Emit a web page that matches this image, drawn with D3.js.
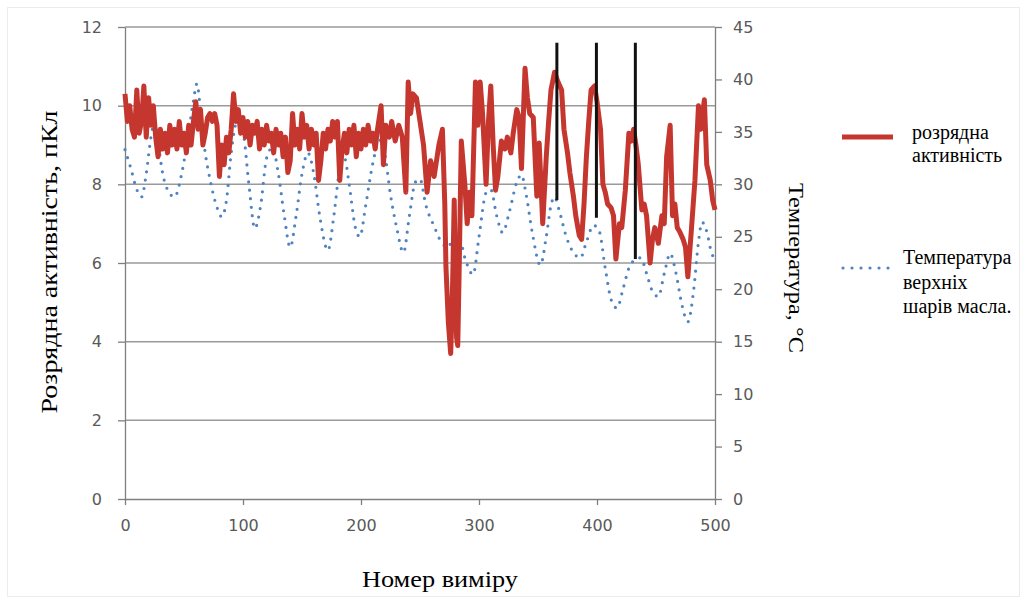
<!DOCTYPE html>
<html>
<head>
<meta charset="utf-8">
<script src="https://cdn.jsdelivr.net/npm/d3@7"></script>
<style>
  body { margin: 0; background: #fff; }
  .tick text { font-family: "DejaVu Sans", sans-serif; font-size: 16px; fill: #595959; }
  .serif { font-family: "Liberation Serif", "Times New Roman", serif; fill: #000; }
</style>
</head>
<body>
<svg id="chart"></svg>
<script>
// discharge activity, pC  [measurement number, value]
const discharge = [
  [0,10.3],[2,9.6],[4,10.0],[6,9.4],[8,9.2],[10,10.4],[12,9.3],[14,9.6],[16,10.5],[18,9.2],
  [20,10.2],[22,9.5],[24,10.0],[26,9.2],[28,8.7],[30,9.4],[32,8.9],[34,9.3],[36,8.8],[38,9.5],
  [40,9.0],[42,9.4],[44,8.9],[46,9.6],[48,9.0],[50,9.3],[52,8.8],[54,9.5],[56,9.0],[58,9.6],
  [60,10.1],[62,9.4],[64,9.9],[66,9.0],[68,9.3],[70,9.7],[72,9.8],[74,9.6],[76,9.8],[78,9.5],
  [80,8.2],[82,9.0],[84,8.5],[86,9.2],[88,8.8],[90,9.4],[92,10.3],[94,9.6],[96,9.9],[98,9.3],
  [100,9.7],[102,9.2],[104,9.6],[106,9.0],[108,9.5],[110,9.3],[112,9.6],[114,8.9],[116,9.4],[118,9.0],
  [120,9.5],[122,9.1],[124,9.3],[126,8.8],[128,9.4],[130,9.0],[132,9.3],[134,8.7],[136,9.2],[138,8.3],
  [140,8.6],[142,9.8],[144,9.0],[146,9.4],[148,8.9],[150,9.8],[152,9.2],[154,9.5],[156,8.9],[158,9.4],
  [160,9.0],[162,9.3],[164,8.1],[166,8.6],[168,9.3],[170,8.9],[172,9.4],[174,9.1],[176,9.6],[178,9.2],
  [180,9.6],[182,8.1],[184,8.9],[186,9.3],[188,8.8],[190,9.4],[192,9.0],[194,9.5],[196,8.7],[198,9.3],
  [200,8.9],[202,9.4],[204,9.0],[206,9.5],[208,9.1],[210,9.3],[212,8.9],[214,9.4],[217,10.0],[219,8.5],
  [221,9.5],[224,9.2],[226,9.6],[229,9.1],[232,9.5],[235,9.2],[238,7.8],[240,10.6],[242,9.8],[244,10.3],
  [247,10.2],[250,9.6],[253,9.0],[256,7.8],[259,8.6],[262,8.2],[266,9.0],[269,9.4],[271,7.5],[272,5.9],
  [274,4.5],[276,3.7],[277,4.6],[278,6.0],[279,7.6],[280,5.5],[281,4.1],[282,3.9],[283,5.5],[285,9.1],
  [288,8.0],[290,7.0],[292,7.8],[294,7.2],[297,10.6],[299,9.5],[301,10.6],[303,9.8],[306,8.0],[308,9.6],
  [310,10.5],[312,9.0],[314,7.85],[316,8.2],[319,9.1],[322,8.9],[324,9.2],[327,8.8],[329,9.3],[332,9.9],
  [334,9.7],[336,8.4],[339,10.95],[341,10.2],[343,9.8],[346,9.7],[349,7.7],[351,9.05],[354,7.0],[357,8.7],
  [359,9.6],[361,10.4],[364,10.85],[367,10.6],[370,10.4],[372,9.4],[375,8.8],[377,8.3],[380,7.7],[382,7.2],
  [385,6.7],[387,6.6],[389,7.5],[391,8.7],[393,9.6],[395,10.4],[398,10.5],[400,10.1],[403,9.4],[405,8.0],
  [407,7.8],[409,7.5],[412,7.4],[414,7.2],[416,6.1],[419,7.0],[421,6.9],[424,7.85],[427,9.3],[429,9.1],
  [431,9.4],[433,9.0],[435,8.5],[438,7.35],[440,7.5],[442,7.2],[445,6.0],[447,6.6],[449,6.9],[452,6.5],
  [455,7.2],[457,7.0],[459,8.7],[462,9.5],[464,7.2],[466,7.5],[468,6.9],[470,6.8],[473,6.6],[475,6.4],
  [477,5.65],[480,6.85],[483,8.1],[486,10.0],[488,9.4],[491,10.15],[493,8.5],[496,8.1],[498,7.6],[500,7.35]
];

// top oil layer temperature, °C  [measurement number, value]
const temperature = [
  [0,33.3],[5,31.5],[10,29.5],[14,28.8],[18,31],[22,34.5],[25,36],[28,34],[32,31],[36,29.5],
  [42,28.8],[48,31],[54,35],[58,38],[61,39.6],[64,37],[68,33],[72,30.5],[78,27.8],[82,26.9],
  [86,28.5],[90,33],[95,36],[100,35],[105,30],[110,25.8],[115,28],[120,32.5],[125,33.5],[130,31],
  [135,27],[140,24],[145,27],[150,31],[155,33],[160,31],[165,27],[172,23.7],[177,27],[182,31.5],
  [186,32.5],[190,30],[195,26],[199,25],[204,28],[210,32],[216,34.2],[220,33],[225,29],[230,26],
  [236,23.5],[241,27],[246,30.2],[250,30.5],[255,28],[262,26],[268,24.5],[274,24],[278,24.9],[283,25],
  [288,23],[295,21.4],[300,25],[306,29.2],[310,29.5],[315,27],[320,25.4],[326,27.5],[332,30.2],[336,30.9],
  [340,29],[345,25.5],[352,22.3],[357,25],[361,28],[364,28.8],[368,27.5],[374,25],[380,23.5],[386,23],
  [391,24.5],[397,26.1],[402,25.5],[407,22],[412,19],[417,18.2],[422,20],[427,22],[432,22.8],[437,23],
  [442,21.5],[447,19.8],[452,19.3],[457,21.5],[462,23.4],[467,21.5],[472,18.5],[477,16.9],[482,20],[486,24.5],
  [489,26.4],[493,25.5],[497,23.5],[500,22.8]
];

// black vertical marker lines: [measurement number, top, bottom] in pC
const markers = [[366, 11.6, 7.6], [399.5, 11.6, 7.15], [432.5, 11.6, 6.1]];

const xTicks = [0, 100, 200, 300, 400, 500];
const yTicks = [0, 2, 4, 6, 8, 10, 12];
const tTicks = [0, 5, 10, 15, 20, 25, 30, 35, 40, 45];

const width = 1027;
const height = 599;
const margin = { top: 27, right: 312, bottom: 100, left: 125 };

const svg = d3.select("#chart")
  .attr("width", width)
  .attr("height", height);

svg.append("rect")
  .attr("x", 7.5).attr("y", 7.5)
  .attr("width", 1012).attr("height", 589)
  .attr("fill", "#fff")
  .attr("stroke", "#ececec");

const xScale = d3.scaleLinear().domain([0, 500]).range([margin.left, width - margin.right]);
const yScale = d3.scaleLinear().domain([0, 12]).range([height - margin.bottom, margin.top]);
const tScale = d3.scaleLinear().domain([0, 45]).range([height - margin.bottom, margin.top]);

// grid
svg.append("g")
  .selectAll("line")
  .data(yTicks.slice(1))
  .enter()
  .append("line")
  .attr("x1", xScale(0)).attr("x2", xScale(500))
  .attr("y1", d => yScale(d)).attr("y2", d => yScale(d))
  .attr("stroke", "#9a9a9a")
  .attr("stroke-width", 1.5);

function styleAxis(g) {
  g.select(".domain").attr("stroke", "#7f7f7f").attr("stroke-width", 1.3);
  g.selectAll(".tick line").attr("stroke", "#7f7f7f").attr("stroke-width", 1.3);
}

svg.append("g")
  .attr("transform", `translate(0,${yScale(0)})`)
  .call(d3.axisBottom(xScale).tickValues(xTicks).tickSize(6).tickSizeOuter(0).tickPadding(15))
  .call(styleAxis);

svg.append("g")
  .attr("transform", `translate(${xScale(0)},0)`)
  .call(d3.axisLeft(yScale).tickValues(yTicks).tickSize(7).tickSizeOuter(0).tickPadding(16))
  .call(styleAxis);

svg.append("g")
  .attr("transform", `translate(${xScale(500)},0)`)
  .call(d3.axisRight(tScale).tickValues(tTicks).tickSize(7).tickSizeOuter(0).tickPadding(11))
  .call(styleAxis);

// temperature, dotted
const tLine = d3.line()
  .x(d => xScale(d[0]))
  .y(d => tScale(d[1]))
  .curve(d3.curveMonotoneX);

svg.append("path")
  .datum(temperature)
  .attr("d", tLine)
  .attr("fill", "none")
  .attr("stroke", "#4f84c0")
  .attr("stroke-width", 3.2)
  .attr("stroke-linecap", "round")
  .attr("stroke-dasharray", "0 8.5");

// discharge activity
const pdLine = d3.line()
  .x(d => xScale(d[0]))
  .y(d => yScale(d[1]));

svg.append("path")
  .datum(discharge)
  .attr("d", pdLine)
  .attr("fill", "none")
  .attr("stroke", "#c5372e")
  .attr("stroke-width", 5)
  .attr("stroke-linejoin", "round");

svg.append("g")
  .selectAll("line")
  .data(markers)
  .enter()
  .append("line")
  .attr("x1", d => xScale(d[0])).attr("x2", d => xScale(d[0]))
  .attr("y1", d => yScale(d[1])).attr("y2", d => yScale(d[2]))
  .attr("stroke", "#111")
  .attr("stroke-width", 3);

// axis titles
svg.append("text")
  .attr("class", "serif")
  .attr("x", 440).attr("y", 587)
  .attr("text-anchor", "middle")
  .attr("font-size", 24)
  .attr("textLength", 156)
  .attr("lengthAdjust", "spacingAndGlyphs")
  .text("Номер виміру");

svg.append("text")
  .attr("class", "serif")
  .attr("transform", "translate(57,262) rotate(-90)")
  .attr("text-anchor", "middle")
  .attr("font-size", 24)
  .attr("textLength", 303)
  .attr("lengthAdjust", "spacingAndGlyphs")
  .text("Розрядна активність, пКл");

svg.append("text")
  .attr("class", "serif")
  .attr("transform", "translate(789,268) rotate(90)")
  .attr("text-anchor", "middle")
  .attr("font-size", 20)
  .attr("textLength", 170)
  .attr("lengthAdjust", "spacingAndGlyphs")
  .text("Температура, °С");

// legend
svg.append("line")
  .attr("x1", 842).attr("x2", 893).attr("y1", 137).attr("y2", 137)
  .attr("stroke", "#c5372e").attr("stroke-width", 5);

svg.append("line")
  .attr("x1", 843).attr("x2", 893).attr("y1", 268).attr("y2", 268)
  .attr("stroke", "#4f84c0").attr("stroke-width", 3.2)
  .attr("stroke-linecap", "round").attr("stroke-dasharray", "0 9");

const legendText = [
  { x: 912, y: 139, t: "розрядна" },
  { x: 912, y: 162, t: "активність" },
  { x: 903, y: 264, t: "Температура" },
  { x: 903, y: 289, t: "верхніх" },
  { x: 903, y: 313, t: "шарів масла." }
];

svg.append("g")
  .selectAll("text")
  .data(legendText)
  .enter()
  .append("text")
  .attr("class", "serif")
  .attr("x", d => d.x).attr("y", d => d.y)
  .attr("font-size", 20)
  .text(d => d.t);
</script>
</body>
</html>
